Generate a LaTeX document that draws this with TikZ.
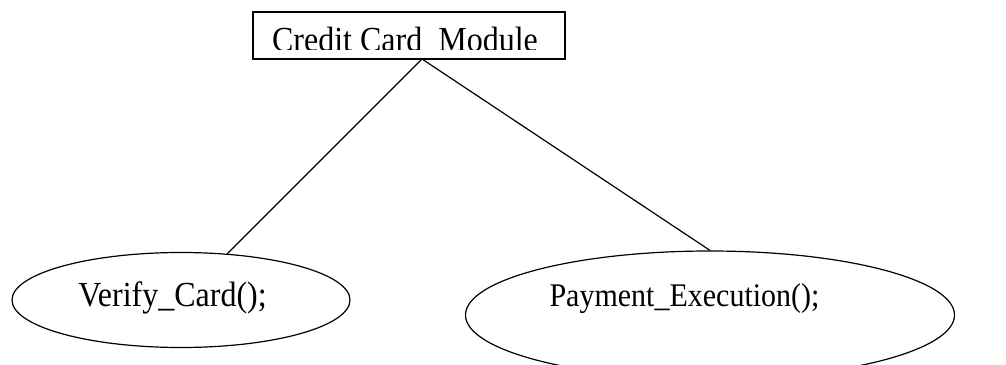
\documentclass[tikz,border=0pt]{standalone}
\usepackage{fontspec}
\setmainfont{Liberation Serif}
\usetikzlibrary{shapes.geometric}

\tikzset{
    lbl/.style={inner sep=0pt, anchor=base, font=\fontsize{32}{32}\selectfont},
    func/.style={draw, ellipse, inner sep=0pt}
}
\newcommand{\tall}[1]{\scalebox{1}[1.1]{#1}}

\begin{document}
\begin{tikzpicture}[x=1pt,y=-1pt,line width=1.2pt]
        \useasboundingbox (0,0) rectangle (1006,364);
        \clip (0,0) rectangle (1006,364);

        \node[draw, rectangle, minimum width=312pt, minimum height=47pt, inner sep=0pt] (module) at (409,35.5) {};
        \begin{scope}
            \clip (253,12) rectangle (565,49);
            \node[lbl] (moduletxt) at (405,51.5) {\tall{Credit Card\ \ Module}};
        \end{scope}

        \node[func, minimum width=338pt, minimum height=95pt] (verify) at (181,300) {};
        \node[func, minimum width=489pt, minimum height=128pt] (payment) at (710,315) {};
        \node[lbl] (verifytxt) at (172.5,306) {\tall{Verify\_Card();}};
        \node[lbl, font=\fontsize{30}{30}\selectfont] (paymenttxt) at (684.5,306.5) {\tall{Payment\_Execution();}};

        \coordinate (apex) at (422,59);
        \path[draw,-] (apex) -- (verify);
        \path[draw,-] (apex) -- (payment.north);
    \end{tikzpicture}
\end{document}
